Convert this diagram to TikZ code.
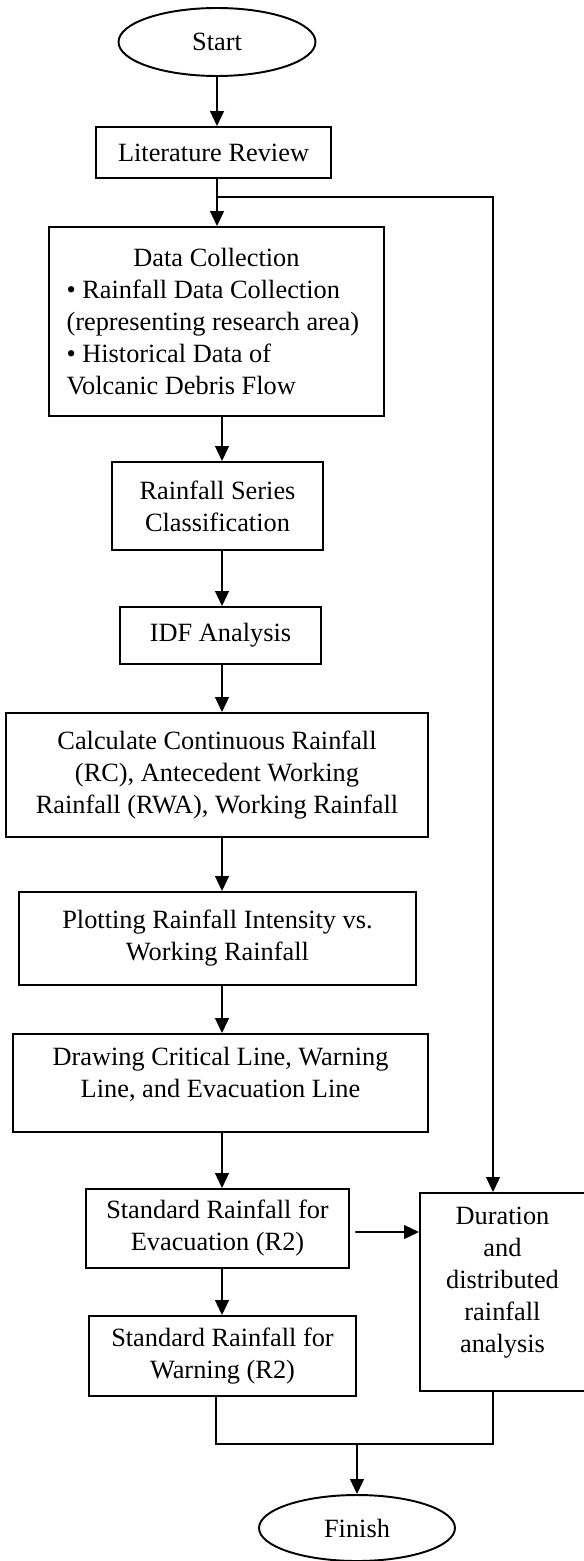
\documentclass[tikz,border=0pt]{standalone}
\usepackage{fontspec}
\setmainfont{Liberation Serif}
\usetikzlibrary{shapes.geometric,arrows.meta}

\begin{document}
\begin{tikzpicture}[x=0.02cm, y=-0.02cm,
    every node/.style={font=\fontsize{15}{18.2}\selectfont},
    procbox/.style={draw, rectangle, line width=1.1pt, inner sep=0pt, align=center},
    termin/.style={draw, ellipse, line width=1.1pt, inner sep=0pt},
    arr/.style={-{Triangle[length=8.5pt,width=7.8pt]}, line width=1.1pt}]
    \useasboundingbox (0,0) rectangle (584,1561);

    % Main column
    \node[termin, minimum width=3.94cm, minimum height=1.36cm] (start) at (217,42) {Start};
    \node[procbox, minimum width=4.7cm, minimum height=1.02cm] (lit) at (213.5,152.5) {Literature Review};
    \node[procbox, align=none, text width=6cm, minimum width=6.7cm, minimum height=3.78cm] (data) at (216.5,321.5)
        {{\centering Data Collection\par}\raggedright
         \textbullet\ Rainfall Data Collection\\
         (representing research area)\\
         \textbullet\ Historical Data of\\
         Volcanic Debris Flow};
    \node[procbox, minimum width=4.22cm, minimum height=1.76cm] (series) at (217.5,506) {Rainfall Series\\Classification};
    \node[procbox, minimum width=4.02cm, minimum height=1.14cm] (idf) at (220.5,635.5) {IDF Analysis};
    \node[procbox, minimum width=8.44cm, minimum height=2.48cm] (calc) at (217,775)
        {Calculate Continuous Rainfall\\(RC), Antecedent Working\\Rainfall (RWA), Working Rainfall};
    \node[procbox, minimum width=7.94cm, minimum height=1.86cm] (plot) at (217.5,938.5)
        {Plotting Rainfall Intensity vs.\\Working Rainfall};
    \node[procbox, minimum width=8.3cm, minimum height=1.96cm] (lines) at (220.5,1083)
        {Drawing Critical Line, Warning\\Line, and Evacuation Line\rule[-0.8em]{0pt}{0pt}};
    \node[procbox, minimum width=5.26cm, minimum height=1.58cm] (evac) at (217.5,1228.5)
        {Standard Rainfall for\\Evacuation (R2)};
    \node[procbox, minimum width=5.34cm, minimum height=1.6cm] (warn) at (222.5,1356)
        {Standard Rainfall for\\Warning (R2)};

    % Side branch
    \node[procbox, minimum width=3.3cm, minimum height=3.96cm] (dur) at (502.5,1292)
        {Duration\\and\\distributed\\rainfall\\analysis\rule[-0.9em]{0pt}{0pt}};
    \node[termin, minimum width=3.92cm, minimum height=1.32cm] (finish) at (357,1528) {Finish};

    % Junction points
    \coordinate (split) at (217,197);
    \coordinate (rtop) at (493,197);
    \coordinate (col) at (222,0);
    \coordinate (mL) at (216,1444);
    \coordinate (mR) at (493,1444);

    % Arrows
    \draw[arr] (start.south) -- (start.south |- lit.north);
    \draw[arr] (lit.south -| split) -- (split |- data.north);
    \draw[arr] (split) -- (rtop) -- (rtop |- dur.north);
    \draw[arr] (col |- data.south) -- (col |- series.north);
    \draw[arr] (col |- series.south) -- (col |- idf.north);
    \draw[arr] (col |- idf.south) -- (col |- calc.north);
    \draw[arr] (col |- calc.south) -- (col |- plot.north);
    \draw[arr] (col |- plot.south) -- (col |- lines.north);
    \draw[arr] (col |- lines.south) -- (col |- evac.north);
    \draw[arr] (col |- evac.south) -- (col |- warn.north);
    \draw[arr, shorten <=0.11cm] (evac.east) ++(0,3.5) -- (dur.west |- 0,1232);

    % Merge to finish
    \draw[line width=1.1pt] (mL |- warn.south) -- (mL) -- (mR) -- (mR |- dur.south);
    \draw[arr] (finish.north |- mL) -- (finish.north);
\end{tikzpicture}
\end{document}
